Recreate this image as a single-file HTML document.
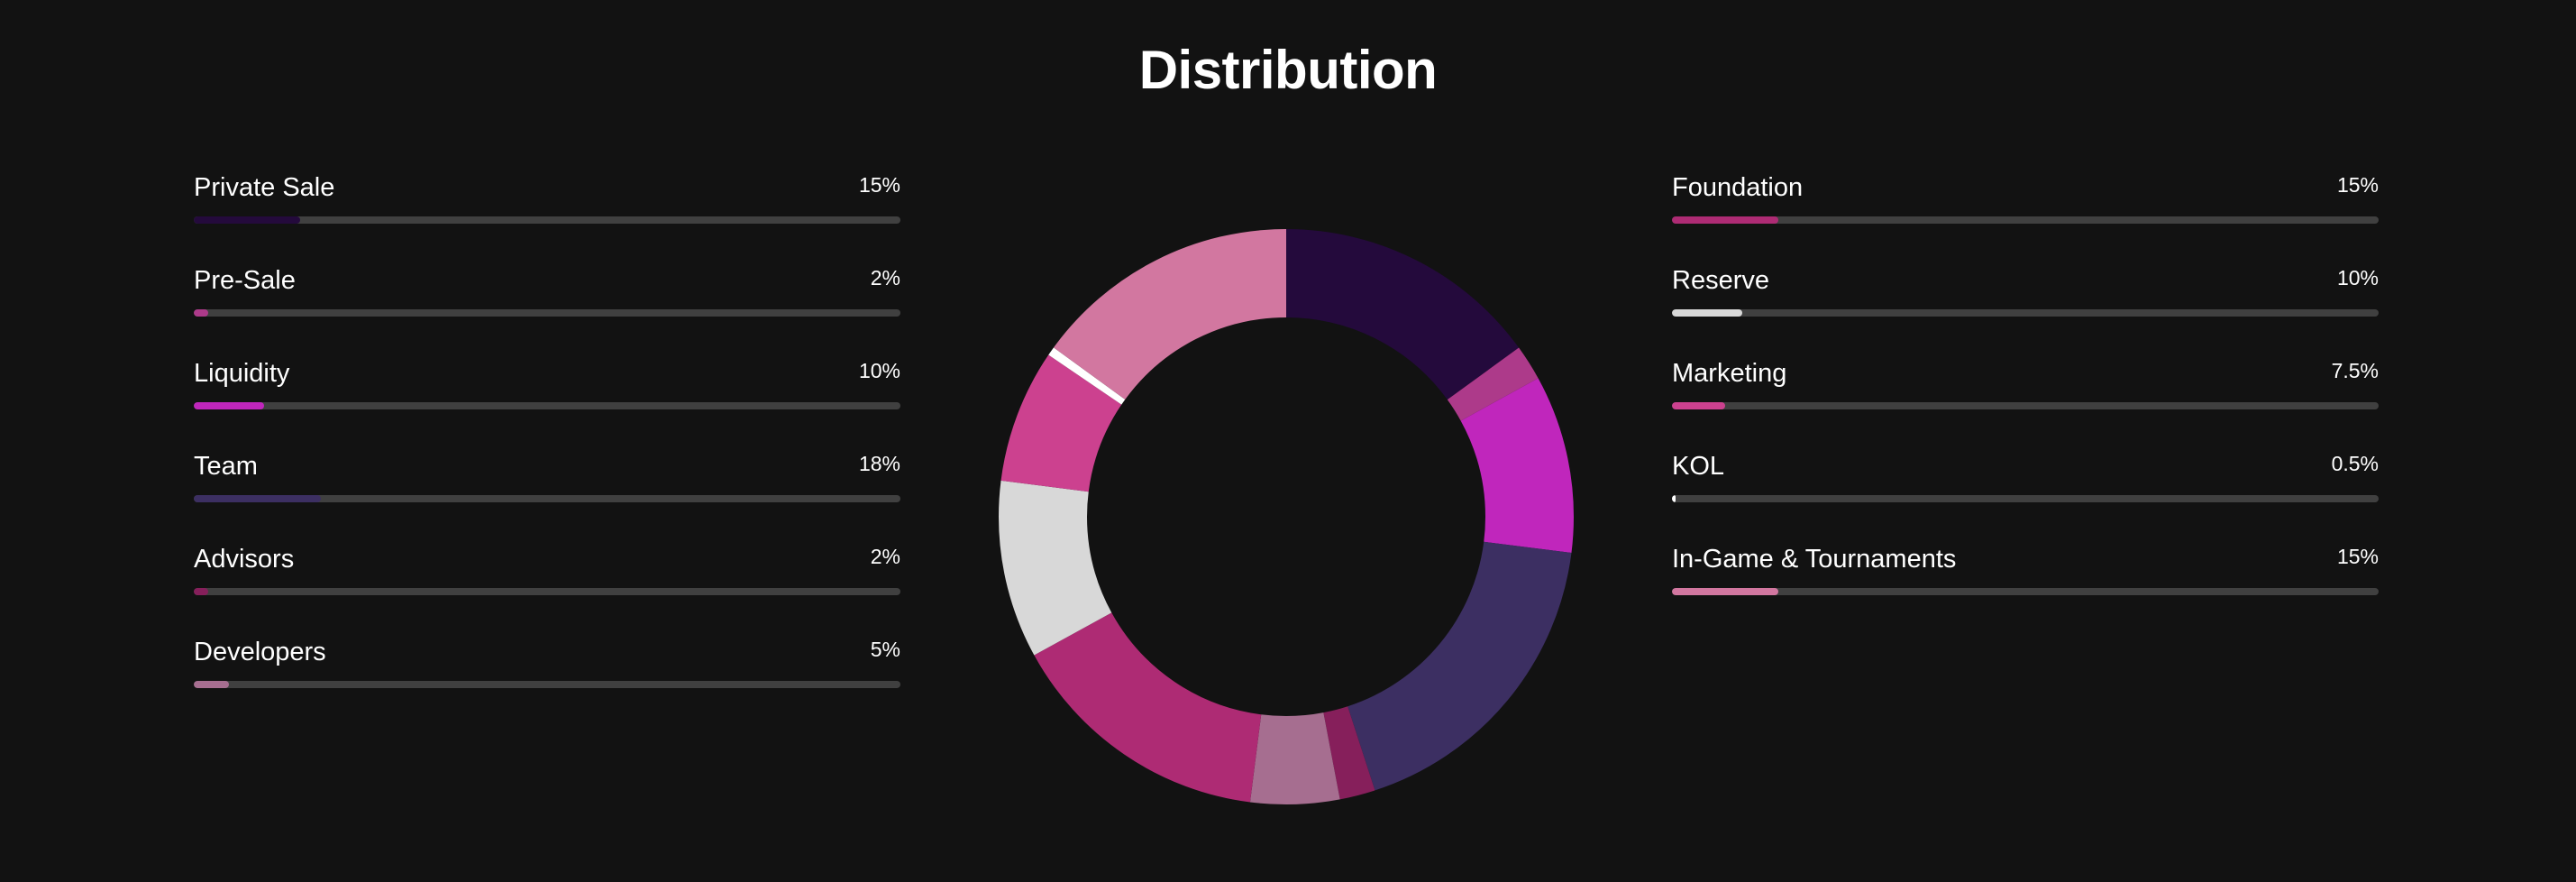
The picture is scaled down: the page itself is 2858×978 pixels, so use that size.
<!DOCTYPE html>
<html><head><meta charset="utf-8"><style>
html,body{margin:0;padding:0;background:#121212;}
body{width:2858px;height:978px;position:relative;overflow:hidden;font-family:"Liberation Sans",sans-serif;color:#fff;}
.t{position:absolute;left:0;width:2858px;top:43px;text-align:center;font-weight:bold;font-size:60px;line-height:70px;letter-spacing:-0.5px;}
.lab{position:absolute;font-size:29px;line-height:36px;white-space:nowrap;}
.pct{position:absolute;font-size:23px;line-height:30px;text-align:right;width:200px;}
.tr{position:absolute;height:8px;border-radius:4px;background:#404040;width:784px;overflow:hidden;}
.tr i{display:block;height:8px;border-radius:4px;}
</style></head><body>
<div class="t">Distribution</div>

<div class="lab" style="left:215px;top:190px">Private Sale</div><div class="pct" style="left:799px;top:190px">15%</div><div class="tr" style="left:215px;top:240px"><i style="width:118px;background:#240a3c"></i></div>
<div class="lab" style="left:215px;top:293px">Pre-Sale</div><div class="pct" style="left:799px;top:293px">2%</div><div class="tr" style="left:215px;top:343px"><i style="width:16px;background:#ad3a8a"></i></div>
<div class="lab" style="left:215px;top:396px">Liquidity</div><div class="pct" style="left:799px;top:396px">10%</div><div class="tr" style="left:215px;top:446px"><i style="width:78px;background:#c026bc"></i></div>
<div class="lab" style="left:215px;top:499px">Team</div><div class="pct" style="left:799px;top:499px">18%</div><div class="tr" style="left:215px;top:549px"><i style="width:141px;background:#3c2f62"></i></div>
<div class="lab" style="left:215px;top:602px">Advisors</div><div class="pct" style="left:799px;top:602px">2%</div><div class="tr" style="left:215px;top:652px"><i style="width:16px;background:#861f5b"></i></div>
<div class="lab" style="left:215px;top:705px">Developers</div><div class="pct" style="left:799px;top:705px">5%</div><div class="tr" style="left:215px;top:755px"><i style="width:39px;background:#a66e90"></i></div>

<div class="lab" style="left:1855px;top:190px">Foundation</div><div class="pct" style="left:2439px;top:190px">15%</div><div class="tr" style="left:1855px;top:240px"><i style="width:118px;background:#ae2b74"></i></div>
<div class="lab" style="left:1855px;top:293px">Reserve</div><div class="pct" style="left:2439px;top:293px">10%</div><div class="tr" style="left:1855px;top:343px"><i style="width:78px;background:#d8d8d8"></i></div>
<div class="lab" style="left:1855px;top:396px">Marketing</div><div class="pct" style="left:2439px;top:396px">7.5%</div><div class="tr" style="left:1855px;top:446px"><i style="width:59px;background:#cc418f"></i></div>
<div class="lab" style="left:1855px;top:499px">KOL</div><div class="pct" style="left:2439px;top:499px">0.5%</div><div class="tr" style="left:1855px;top:549px"><i style="width:4px;background:#fff"></i></div>
<div class="lab" style="left:1855px;top:602px">In-Game &amp; Tournaments</div><div class="pct" style="left:2439px;top:602px">15%</div><div class="tr" style="left:1855px;top:652px"><i style="width:118px;background:#d277a0"></i></div>

<svg style="position:absolute;left:0;top:0" width="2858" height="978">
<g transform="translate(1427,573) rotate(-90)" fill="none" stroke-width="98">
<circle r="270" stroke="#240a3c" stroke-dasharray="254.47 2000" stroke-dashoffset="0"/>
<circle r="270" stroke="#ad3a8a" stroke-dasharray="33.93 2000" stroke-dashoffset="-254.47"/>
<circle r="270" stroke="#c026bc" stroke-dasharray="169.65 2000" stroke-dashoffset="-288.40"/>
<circle r="270" stroke="#3c2f62" stroke-dasharray="305.36 2000" stroke-dashoffset="-458.05"/>
<circle r="270" stroke="#861f5b" stroke-dasharray="33.93 2000" stroke-dashoffset="-763.41"/>
<circle r="270" stroke="#a66e90" stroke-dasharray="84.82 2000" stroke-dashoffset="-797.34"/>
<circle r="270" stroke="#ae2b74" stroke-dasharray="254.47 2000" stroke-dashoffset="-882.16"/>
<circle r="270" stroke="#d8d8d8" stroke-dasharray="169.65 2000" stroke-dashoffset="-1136.63"/>
<circle r="270" stroke="#cc418f" stroke-dasharray="127.23 2000" stroke-dashoffset="-1306.28"/>
<circle r="270" stroke="#ffffff" stroke-dasharray="8.48 2000" stroke-dashoffset="-1433.51"/>
<circle r="270" stroke="#d277a0" stroke-dasharray="254.47 2000" stroke-dashoffset="-1441.99"/>
</g>
</svg>
</body></html>
